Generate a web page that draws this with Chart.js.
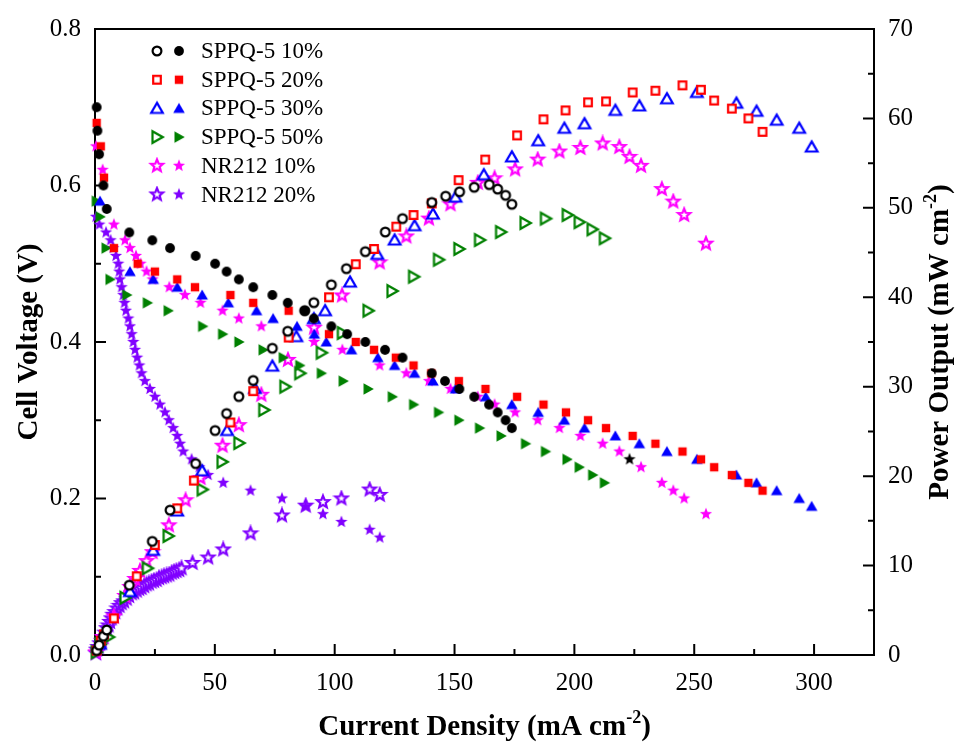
<!DOCTYPE html>
<html>
<head>
    <meta charset="utf-8">
    <script src="https://cdn.jsdelivr.net/npm/chart.js"></script>
    <style>
        body { margin: 0; background: #fff; }
        canvas { display: block; }
    </style>
</head>
<body>
    <canvas id="polChart" width="955" height="745"></canvas>
    <script>
        // axis ticks
        const xTicks = [0, 50, 100, 150, 200, 250, 300];
        const vTicks = [0, 0.2, 0.4, 0.6, 0.8];
        const pTicks = [0, 10, 20, 30, 40, 50, 60, 70];

        // SPPQ-5 10% : polarization (V) and power (mW cm-2)
        const sp10VX = [0.7, 1, 1.7, 3.5, 4.9, 14.3, 23.9, 31.3, 42, 50.1, 54.9, 60, 66, 74, 80.4, 87.5, 91.3, 98.6, 105.2, 112.8, 121, 128.3, 140.5, 146, 152, 158.2, 164.4, 168, 171.3, 173.9];
        const sp10V  = [0.70, 0.67, 0.64, 0.60, 0.57, 0.54, 0.53, 0.52, 0.51, 0.50, 0.49, 0.48, 0.47, 0.46, 0.45, 0.44, 0.43, 0.42, 0.41, 0.40, 0.39, 0.38, 0.36, 0.35, 0.34, 0.33, 0.32, 0.31, 0.30, 0.29];
        const sp10PX = [0.7, 1.7, 3.5, 4.9, 14.3, 23.9, 31.3, 42, 50.1, 54.9, 60, 66, 74, 80.4, 87.5, 91.3, 98.6, 104.9, 112.8, 121.1, 128.3, 140.5, 146.3, 152.1, 158.2, 164.5, 168, 171.3, 173.9];
        const sp10P  = [0.5, 1.1, 2.1, 2.8, 7.8, 12.7, 16.2, 21.4, 25.1, 27.0, 28.9, 30.7, 34.3, 36.2, 38.5, 39.4, 41.4, 43.2, 45.1, 47.3, 48.8, 50.6, 51.3, 51.8, 52.3, 52.6, 52.1, 51.4, 50.4];

        // SPPQ-5 20%
        const sp20VX = [0.7, 2.4, 3.75, 7.9, 17.8, 25, 34.3, 41.7, 56.5, 66, 80.8, 97.6, 108.8, 116.4, 125.5, 132.9, 140.3, 151.8, 162.9, 176.1, 187.1, 196.5, 205.7, 213.2, 224.3, 233.8, 245.1, 252.8, 258.3, 265.7, 272.6, 278.5];
        const sp20V  = [0.68, 0.65, 0.61, 0.52, 0.50, 0.49, 0.48, 0.47, 0.46, 0.45, 0.44, 0.41, 0.40, 0.39, 0.38, 0.37, 0.36, 0.35, 0.34, 0.33, 0.32, 0.31, 0.30, 0.29, 0.28, 0.27, 0.26, 0.25, 0.24, 0.23, 0.22, 0.21];
        const sp20PX = [0.7, 2.4, 3.75, 7.9, 17.4, 25, 34.3, 41.25, 56.5, 66, 80.8, 97.6, 108.8, 116.4, 125.7, 132.9, 140.5, 151.7, 162.8, 176.1, 187.1, 196.3, 205.7, 213.2, 224.3, 233.8, 245.1, 252.8, 258.3, 265.7, 272.6, 278.5];
        const sp20P  = [0.5, 1.6, 2.3, 4.1, 8.8, 12.3, 16.4, 19.5, 26.0, 29.5, 35.5, 40.0, 43.7, 45.4, 47.9, 49.2, 50.5, 53.1, 55.4, 58.1, 59.9, 60.9, 61.8, 61.9, 62.9, 63.1, 63.7, 63.2, 62.0, 61.1, 60.0, 58.5];

        // SPPQ-5 30%
        const sp30VX = [2.1, 14.6, 24.3, 34.3, 44.7, 55.6, 67.4, 74.3, 84.3, 91.5, 96.5, 107, 118, 125, 133.3, 141, 150.4, 163, 173.9, 184.9, 195.8, 204.2, 217.1, 227.1, 238.6, 251.1, 267.6, 276, 284.4, 293.8, 299];
        const sp30V  = [0.58, 0.49, 0.48, 0.47, 0.46, 0.45, 0.44, 0.43, 0.42, 0.41, 0.40, 0.39, 0.38, 0.37, 0.36, 0.35, 0.34, 0.33, 0.32, 0.31, 0.30, 0.29, 0.28, 0.27, 0.26, 0.25, 0.23, 0.22, 0.21, 0.20, 0.19];
        const sp30PX = [2.1, 14.6, 24.3, 34.3, 44.7, 55.1, 66.7, 74, 84, 91.3, 96, 106.4, 117.8, 125, 133.3, 141, 150.4, 162.2, 173.9, 184.9, 195.8, 204.2, 217.1, 227.1, 238.6, 251.1, 267.6, 276, 284.4, 293.8, 299];
        const sp30P  = [1.2, 7.1, 11.7, 16.1, 20.6, 25.1, 29.8, 32.3, 35.6, 37.6, 38.5, 41.7, 44.8, 46.4, 48.0, 49.3, 51.2, 53.7, 55.7, 57.5, 58.9, 59.4, 60.9, 61.4, 62.2, 62.9, 61.7, 60.8, 59.8, 58.9, 56.8];

        // SPPQ-5 50%
        const sp50VX = [0.5, 2.1, 4.6, 6.25, 13.2, 21.8, 30.5, 44.9, 53.2, 60, 70.1, 78.5, 85.4, 94.4, 103.5, 113.9, 124, 132.9, 143.3, 151.8, 160.4, 169.4, 179.6, 187.9, 196.9, 202, 207.6, 212.5];
        const sp50V  = [0.58, 0.56, 0.52, 0.48, 0.46, 0.45, 0.44, 0.42, 0.41, 0.40, 0.39, 0.38, 0.37, 0.36, 0.35, 0.34, 0.33, 0.32, 0.31, 0.30, 0.29, 0.28, 0.27, 0.26, 0.25, 0.24, 0.23, 0.22];
        const sp50PX = [0.5, 2.1, 5.6, 12.5, 21.8, 30.5, 44.7, 53, 60, 70.4, 79.2, 85.4, 94.4, 103.2, 113.9, 123.9, 132.9, 143.3, 151.8, 160.4, 169.2, 179.4, 187.9, 197, 202, 207.4, 212.5];
        const sp50P  = [0.3, 1.2, 2.0, 6.4, 9.7, 13.3, 18.5, 21.6, 23.7, 27.4, 30.0, 31.5, 33.8, 36.0, 38.5, 40.7, 42.3, 44.2, 45.4, 46.4, 47.3, 48.3, 48.8, 49.2, 48.4, 47.6, 46.6];

        // NR212 10%
        const nr10VX = [0.4, 3.2, 7.9, 12.5, 14.6, 17.1, 19, 21.5, 24, 31, 37.5, 44, 53.2, 60, 69.4, 80.5, 91.4, 103.2, 118.75, 129.9, 139.3, 148.3, 159.7, 166.7, 175.3, 184.7, 193.75, 202.5, 211.8, 218.75, 223, 227.8, 236.5, 241.25, 245.8, 254.9];
        const nr10V  = [0.65, 0.62, 0.55, 0.53, 0.52, 0.51, 0.50, 0.49, 0.48, 0.47, 0.46, 0.45, 0.44, 0.43, 0.42, 0.41, 0.40, 0.39, 0.37, 0.36, 0.35, 0.34, 0.33, 0.32, 0.31, 0.30, 0.29, 0.28, 0.27, 0.26, 0.25, 0.24, 0.22, 0.21, 0.20, 0.18];
        const nr10PX = [0.4, 3.2, 7.9, 12.5, 14.6, 16.7, 18.75, 21.5, 24, 30.8, 37.8, 44, 53.2, 60, 69.4, 80.5, 91.4, 103.1, 118.75, 129.9, 139.3, 148.3, 159.7, 166.7, 175.3, 184.7, 193.75, 202.5, 211.8, 218.75, 223, 227.8, 236.5, 241.25, 245.8, 254.9];
        const nr10P  = [0.3, 2.0, 4.3, 6.6, 7.6, 8.5, 9.4, 10.5, 11.5, 14.5, 17.3, 19.8, 23.4, 25.7, 29.1, 33.0, 36.6, 40.2, 43.9, 46.8, 48.8, 50.4, 52.8, 53.3, 54.3, 55.4, 56.3, 56.7, 57.2, 56.8, 55.7, 54.7, 52.1, 50.7, 49.2, 46.0];
        const nr10BlackX = 223;   // the one point plotted in black

        // NR212 20%
        const nr20VX = [0.4, 1.8, 4.6, 6.5, 7.6, 8.75, 9.7, 10.1, 10.4, 11.1, 11.8, 12.3, 12.9, 13.9, 14.6, 15.3, 16.0, 16.7, 17.6, 18.5, 19.4, 20.8, 22.9, 25, 27.1, 29.2, 30.8, 32.6, 34.3, 35.5, 36.8, 40.3, 43.5, 47.2, 53.5, 64.9, 78, 87.9, 95.1, 102.8, 114.6, 118.8];
        const nr20V  = [0.56, 0.55, 0.54, 0.53, 0.52, 0.51, 0.50, 0.49, 0.48, 0.47, 0.46, 0.45, 0.44, 0.43, 0.42, 0.41, 0.40, 0.39, 0.38, 0.37, 0.36, 0.35, 0.34, 0.33, 0.32, 0.31, 0.30, 0.29, 0.28, 0.27, 0.26, 0.25, 0.24, 0.23, 0.22, 0.21, 0.20, 0.19, 0.18, 0.17, 0.16, 0.15];
        const nr20PX = [0.4, 0.7, 1.4, 2.1, 2.8, 3.5, 4.2, 4.9, 5.6, 6.25, 6.9, 7.6, 8.4, 9.3, 10.2, 11.1, 12.1, 13.2, 14.2, 15.3, 16.3, 17.4, 18.4, 19.4, 20.5, 21.5, 22.5, 23.6, 24.6, 25.7, 26.7, 27.8, 28.8, 29.9, 31, 32, 33, 34, 35.1, 36.1, 40.7, 47.2, 53.5, 64.9, 78, 87.9, 95.1, 102.8, 114.6, 118.8];
        const nr20P  = [0.2, 0.6, 0.9, 1.3, 1.6, 2.0, 2.5, 3.0, 3.3, 3.7, 4.1, 4.5, 4.8, 5.2, 5.5, 5.8, 6.0, 6.3, 6.6, 6.9, 7.0, 7.2, 7.4, 7.5, 7.7, 7.9, 8.0, 8.2, 8.3, 8.4, 8.6, 8.7, 8.8, 8.9, 9.0, 9.2, 9.3, 9.4, 9.5, 9.7, 10.3, 10.9, 11.8, 13.6, 15.6, 16.7, 17.1, 17.5, 18.5, 17.9];

        const seriesLabels = ['SPPQ-5 10%', 'SPPQ-5 20%', 'SPPQ-5 30%', 'SPPQ-5 50%', 'NR212 10%', 'NR212 20%'];

        const FONT = "'Liberation Serif', 'Times New Roman', serif";

        // marker images (open = power, filled = voltage)
        function marker(shape, color, open) {
            const s = 18;
            const c = document.createElement('canvas');
            c.width = s; c.height = s;
            const g = c.getContext('2d');
            g.translate(s / 2, s / 2);
            g.beginPath();
            if (shape === 'circle') {
                g.arc(0, 0, open ? 4.4 : 4.9, 0, Math.PI * 2);
            } else if (shape === 'square') {
                const h = open ? 3.8 : 4.2;
                g.rect(-h, -h, h * 2, h * 2);
            } else if (shape === 'up') {
                g.moveTo(0, -5.6); g.lineTo(5.8, 4.5); g.lineTo(-5.8, 4.5); g.closePath();
            } else if (shape === 'right') {
                g.moveTo(5.8, 0); g.lineTo(-4.5, -5.8); g.lineTo(-4.5, 5.8); g.closePath();
            } else if (shape === 'star') {
                for (let k = 0; k < 10; k++) {
                    const r = k % 2 ? 2.8 : 6.4;
                    const a = -Math.PI / 2 + k * Math.PI / 5;
                    g.lineTo(r * Math.cos(a), r * Math.sin(a));
                }
                g.closePath();
            }
            if (open) {
                g.fillStyle = '#fff'; g.fill();
                g.lineWidth = 2.2; g.lineJoin = 'miter'; g.strokeStyle = color; g.stroke();
            } else {
                g.fillStyle = color; g.fill();
            }
            return c;
        }

        const styles = [
            { shape: 'circle', color: '#000000' },
            { shape: 'square', color: '#ff0000' },
            { shape: 'up',     color: '#0000ff' },
            { shape: 'right',  color: '#008000' },
            { shape: 'star',   color: '#ff00ff' },
            { shape: 'star',   color: '#8000ff' }
        ];
        styles.forEach(s => {
            s.open = marker(s.shape, s.color, true);
            s.full = marker(s.shape, s.color, false);
        });
        const blackStar = marker('star', '#000000', false);

        const pts = (xs, ys) => xs.map((x, i) => ({ x: x, y: ys[i] }));

        const vSets = [[sp10VX, sp10V], [sp20VX, sp20V], [sp30VX, sp30V], [sp50VX, sp50V], [nr10VX, nr10V], [nr20VX, nr20V]];
        const pSets = [[sp10PX, sp10P], [sp20PX, sp20P], [sp30PX, sp30P], [sp50PX, sp50P], [nr10PX, nr10P], [nr20PX, nr20P]];

        const datasets = [];
        seriesLabels.forEach((lab, i) => {
            const st = styles[i];
            datasets.push({
                label: lab + ' V',
                data: pts(vSets[i][0], vSets[i][1]),
                yAxisID: 'yV',
                showLine: false,
                clip: false,
                pointRadius: 5,
                pointStyle: i === 4
                    ? (c => (c.raw && c.raw.x === nr10BlackX ? blackStar : st.full))
                    : st.full
            });
            datasets.push({
                label: lab + ' P',
                data: pts(pSets[i][0], pSets[i][1]),
                yAxisID: 'yP',
                showLine: false,
                clip: false,
                pointRadius: 5,
                pointStyle: st.open
            });
        });

        // minor ticks halfway between majors
        const halves = t => t.slice(0, -1).map((v, i) => (v + t[i + 1]) / 2);

        const framePlugin = {
            id: 'frame',
            beforeDatasetsDraw(chart) {
                const { ctx, chartArea: a, scales } = chart;
                ctx.save();
                ctx.strokeStyle = '#000';
                ctx.lineWidth = 2;
                ctx.strokeRect(a.left, a.top, a.right - a.left, a.bottom - a.top);
                ctx.beginPath();
                const xs = scales.x, yv = scales.yV, yp = scales.yP;
                xTicks.forEach(v => { const p = xs.getPixelForValue(v); ctx.moveTo(p, a.bottom); ctx.lineTo(p, a.bottom - 11); });
                halves(xTicks).concat([325]).forEach(v => { const p = xs.getPixelForValue(v); if (p < a.right - 2) { ctx.moveTo(p, a.bottom); ctx.lineTo(p, a.bottom - 6); } });
                vTicks.forEach(v => { const p = yv.getPixelForValue(v); ctx.moveTo(a.left, p); ctx.lineTo(a.left + 11, p); });
                halves(vTicks).forEach(v => { const p = yv.getPixelForValue(v); ctx.moveTo(a.left, p); ctx.lineTo(a.left + 6, p); });
                pTicks.forEach(v => { const p = yp.getPixelForValue(v); ctx.moveTo(a.right, p); ctx.lineTo(a.right - 11, p); });
                halves(pTicks).forEach(v => { const p = yp.getPixelForValue(v); ctx.moveTo(a.right, p); ctx.lineTo(a.right - 6, p); });
                ctx.stroke();
                ctx.restore();
            },
            afterDraw(chart) {
                const { ctx, chartArea: a } = chart;
                ctx.save();
                ctx.fillStyle = '#000';

                // axis titles with superscript unit
                const title = (parts, cx, cy, rot) => {
                    const big = 'bold 29px ' + FONT, small = 'bold 18px ' + FONT;
                    let w = 0;
                    parts.forEach(p => { ctx.font = p.sup ? small : big; w += ctx.measureText(p.t).width; });
                    ctx.save();
                    ctx.translate(cx, cy);
                    ctx.rotate(rot);
                    ctx.textBaseline = 'middle';
                    ctx.textAlign = 'left';
                    let x = -w / 2;
                    parts.forEach(p => {
                        ctx.font = p.sup ? small : big;
                        ctx.fillText(p.t, x, p.sup ? -10 : 0);
                        x += ctx.measureText(p.t).width;
                    });
                    ctx.restore();
                };
                title([{ t: 'Current Density (mA cm' }, { t: '-2', sup: true }, { t: ')' }], (a.left + a.right) / 2, 728, 0);
                title([{ t: 'Cell Voltage (V)' }], 30, (a.top + a.bottom) / 2, -Math.PI / 2);
                title([{ t: 'Power Output (mW cm' }, { t: '-2', sup: true }, { t: ')' }], 941, (a.top + a.bottom) / 2, -Math.PI / 2);

                // legend: open marker, filled marker, label
                ctx.font = '23px ' + FONT;
                ctx.textBaseline = 'middle';
                ctx.textAlign = 'left';
                seriesLabels.forEach((lab, i) => {
                    const y = 51 + i * 28.7;
                    const st = styles[i];
                    ctx.drawImage(st.open, 157 - 9, y - 9);
                    ctx.drawImage(st.full, 179 - 9, y - 9);
                    ctx.fillText(lab, 201, y + 1);
                });
                ctx.restore();
            }
        };

        const tickFont = { family: FONT, size: 25 };

        new Chart(document.getElementById('polChart'), {
            type: 'scatter',
            data: { datasets: datasets },
            options: {
                responsive: false,
                animation: false,
                events: [],
                layout: { padding: { top: 27, left: 0, right: 0, bottom: 0 } },
                plugins: { legend: { display: false }, tooltip: { enabled: false } },
                scales: {
                    x: {
                        type: 'linear', position: 'bottom', min: 0, max: 325,
                        grid: { display: false, drawTicks: false },
                        border: { display: false },
                        afterBuildTicks: s => { s.ticks = xTicks.map(v => ({ value: v })); },
                        afterFit: s => { s.height = 90; },
                        ticks: { font: tickFont, color: '#000', padding: 13, maxRotation: 0, callback: v => String(v) }
                    },
                    yV: {
                        type: 'linear', position: 'left', min: 0, max: 0.8,
                        grid: { display: false, drawTicks: false },
                        border: { display: false },
                        afterBuildTicks: s => { s.ticks = vTicks.map(v => ({ value: v })); },
                        afterFit: s => { s.width = 95; },
                        ticks: { font: tickFont, color: '#000', padding: 14, callback: v => v.toFixed(1) }
                    },
                    yP: {
                        type: 'linear', position: 'right', min: 0, max: 70,
                        grid: { display: false, drawTicks: false },
                        border: { display: false },
                        afterBuildTicks: s => { s.ticks = pTicks.map(v => ({ value: v })); },
                        afterFit: s => { s.width = 81; },
                        ticks: { font: tickFont, color: '#000', padding: 14, callback: v => String(v) }
                    }
                }
            },
            plugins: [framePlugin]
        });
    </script>
</body>
</html>
